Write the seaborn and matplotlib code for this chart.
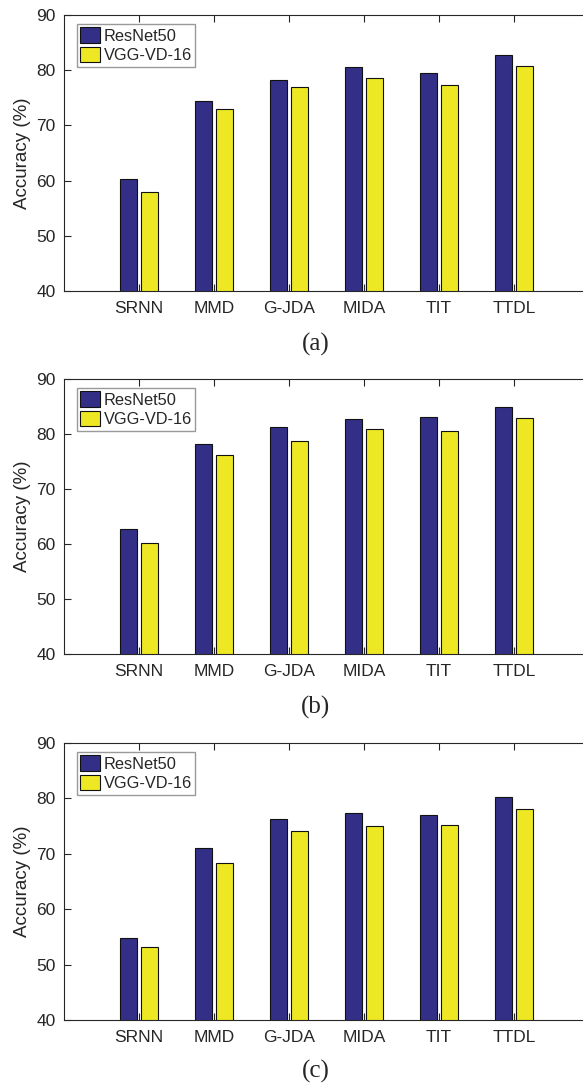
"""Grouped bar charts: ResNet50 vs VGG-VD-16 accuracy for six methods, three panels."""
import pandas as pd
import matplotlib
matplotlib.use("Agg")
import matplotlib.pyplot as plt
import seaborn as sns

# data
methods = ["SRNN", "MMD", "G-JDA", "MIDA", "TIT", "TTDL"]
models = ["ResNet50", "VGG-VD-16"]
panel_tags = ["(a)", "(b)", "(c)"]

resnet_a = [60.2, 74.5, 78.2, 80.6, 79.5, 82.8]
vgg_a = [57.9, 73.0, 76.9, 78.5, 77.3, 80.8]

resnet_b = [62.8, 78.2, 81.2, 82.7, 83.1, 85.0]
vgg_b = [60.2, 76.1, 78.8, 81.0, 80.5, 83.0]

resnet_c = [54.8, 71.0, 76.2, 77.3, 77.0, 80.2]
vgg_c = [53.1, 68.3, 74.1, 75.1, 75.2, 78.1]

yticks = [40, 50, 60, 70, 80, 90]

blue = "#332F87"
yellow = "#EDE823"
ink = "#262626"

sns.set_theme(style="ticks", rc={
    "axes.edgecolor": ink,
    "axes.linewidth": 0.8,
    "xtick.color": ink,
    "ytick.color": ink,
    "text.color": ink,
    "axes.labelcolor": ink,
})
plt.rcParams["font.family"] = ["Liberation Sans", "DejaVu Sans"]


def long_table(resnet, vgg):
    rows = []
    for m, r, v in zip(methods, resnet, vgg):
        rows.append({"method": m, "model": models[0], "acc": r})
        rows.append({"method": m, "model": models[1], "acc": v})
    return pd.DataFrame(rows)


panels = [(resnet_a, vgg_a), (resnet_b, vgg_b), (resnet_c, vgg_c)]

W, H = 583, 1085
fig = plt.figure(figsize=(W / 100, H / 100), dpi=100)

# pixel boxes of the three axes (top, bottom); the right edge runs off the page
boxes = [(15, 291), (379, 654), (743, 1020)]
tag_y = [344, 707, 1071]
left, right = 64, 589

for (res, vgg), (top, bot), tag, ty in zip(panels, boxes, panel_tags, tag_y):
    ax = fig.add_axes([left / W, 1 - bot / H, (right - left) / W, (bot - top) / H])
    df = long_table(res, vgg)
    sns.barplot(data=df, x="method", y="acc", hue="model", hue_order=models,
                palette=[blue, yellow], width=0.573, gap=0.187,
                edgecolor="#111111", linewidth=0.8, saturation=1, ax=ax)
    ax.set_xlim(-1, 6)
    ax.set_ylim(40, 90)
    ax.set_yticks(yticks)
    ax.set_xlabel("")
    ax.set_ylabel("Accuracy (%)", fontsize=13.5)
    ax.yaxis.set_label_coords(-0.062, 0.5)
    ax.tick_params(direction="in", top=True, right=False, length=5, width=0.8,
                   labelsize=12.5)
    ax.tick_params(axis="x", pad=7)
    ax.tick_params(axis="y", pad=6)
    ax.spines["right"].set_visible(False)

    sns.move_legend(ax, "upper left", bbox_to_anchor=(0.024, 0.967),
                    borderaxespad=0, title=None, frameon=True, fancybox=False,
                    edgecolor="#808080", fontsize=11.8, handlelength=1.25,
                    handleheight=1.05, handletextpad=0.2, labelspacing=0.22,
                    borderpad=0.2)
    ax.get_legend().get_frame().set_linewidth(1.0)

    fig.text(316 / W, 1 - ty / H, tag, ha="center", va="center",
             fontsize=18, family=["Liberation Serif", "DejaVu Serif"])

fig.savefig("out.png", dpi=100)
